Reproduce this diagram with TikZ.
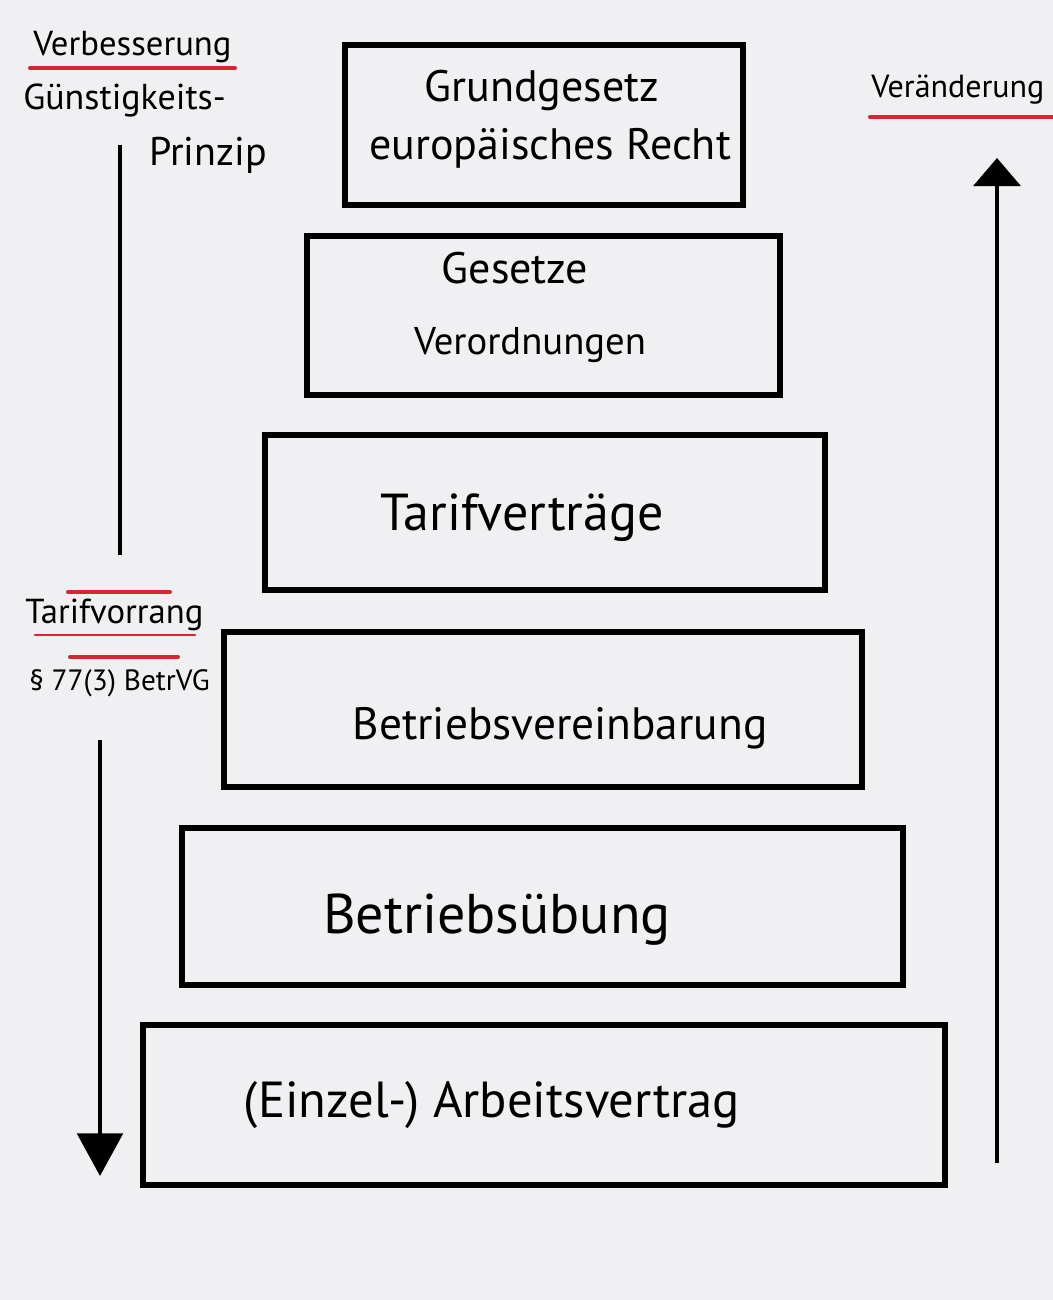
\documentclass[tikz,border=0pt]{standalone}
\usepackage{fontspec}
\setmainfont{PT Sans}
\usetikzlibrary{arrows.meta}
\definecolor{markerred}{RGB}{214,38,48}
\definecolor{paper}{RGB}{240,240,242}

\begin{document}
\begin{tikzpicture}[x=0.75pt,y=0.75pt,yscale=-1,xscale=1,
  stufe/.style={draw, line width=4pt, inner sep=0pt},
  schrift/.style={inner sep=0.75pt},
  hand/.style={inner sep=0.75pt, anchor=west, font=\fontsize{26}{30}\selectfont},
  marker/.style={draw=markerred, line width=3pt, line cap=round},
  pfeil/.style={line width=3.5pt}]
%set diagram frame: 1053 x 1300
\useasboundingbox (0,0) rectangle (1053,1300);
\fill[paper] (0,0) rectangle (1053,1300);

%Shape: Rectangle [stufe 1]
\node[stufe, minimum width=298.5pt, minimum height=120pt] (grundgesetz) at (544,125) {};
%Shape: Rectangle [stufe 2]
\node[stufe, minimum width=354.75pt, minimum height=119.25pt] (gesetze) at (543.5,315.5) {};
%Shape: Rectangle [stufe 3]
\node[stufe, minimum width=420pt, minimum height=116.25pt] (tarif) at (545,512.5) {};
%Shape: Rectangle [stufe 4]
\node[stufe, minimum width=478.5pt, minimum height=116.25pt] (bv) at (543,709.5) {};
%Shape: Rectangle [stufe 5]
\node[stufe, minimum width=540.75pt, minimum height=117.75pt] (uebung) at (542.5,906.5) {};
%Shape: Rectangle [stufe 6]
\node[stufe, minimum width=601.5pt, minimum height=120pt] (vertrag) at (544,1105) {};

% Text Node
\node[schrift, font=\fontsize{33}{40}\selectfont] (gg1) at (542,90) {Grundgesetz};
\node[schrift, font=\fontsize{33}{40}\selectfont] (gg2) at (550,148) {europäisches Recht};
\node[schrift, font=\fontsize{33}{40}\selectfont] (ges1) at (515,268) {Gesetze};
\node[schrift, font=\fontsize{29}{36}\selectfont] (ges2) at (530,345) {Verordnungen};
\node[schrift, font=\fontsize{39}{46}\selectfont] (tarif1) at (522,518) {Tarifverträge};
\node[schrift, font=\fontsize{34}{40}\selectfont] (bv1) at (560,728) {Betriebsvereinbarung};
\node[schrift, font=\fontsize{42}{48}\selectfont] (uebung1) at (497,920) {Betriebsübung};
\node[schrift, font=\fontsize{38}{44}\selectfont] (vertrag1) at (492,1105) {(Einzel-) Arbeitsvertrag};

%Straight Lines [links, nach unten]
\coordinate (l1) at (120,145);
\coordinate (l2) at (120,555);
\coordinate (l3) at (100,740);
\coordinate (l4) at (100,1176);
\draw[pfeil] (l1) -- (l2);
\draw[pfeil, -{Triangle[width=34pt,length=32pt]}] (l3) -- (l4);
%Straight Lines [rechts, nach oben]
\coordinate (r1) at (997,1163);
\coordinate (r2) at (997,158);
\draw[pfeil, -{Triangle[width=35pt,length=21pt]}] (r1) -- (r2);

% Text Node
\node[hand] (verbesserung) at (32,47) {Verbesserung};
\draw[marker] (30,68) -- (235,68);
% Text Node
\node[hand, font=\fontsize{27}{30}\selectfont] (guenstig) at (22,100) {Günstigkeits-};
% Text Node
\node[hand, font=\fontsize{30}{34}\selectfont] (prinzip) at (148,155) {Prinzip};
% Text Node
\node[hand, font=\fontsize{24}{28}\selectfont] (veraenderung) at (870,90) {Veränderung};
\draw[marker] (870,117) -- (1053,117);
% Text Node
\node[hand] (vorrang) at (24,615) {Tarifvorrang};
\draw[marker] (68,592) -- (170,592);
\draw[marker, line width=2pt] (35,635) -- (195,635);
\draw[marker] (70,657) -- (178,657);
% Text Node
\node[hand, font=\fontsize{22}{26}\selectfont] (paragraf) at (28,683) {§ 77(3) BetrVG};

\end{tikzpicture}
\end{document}
